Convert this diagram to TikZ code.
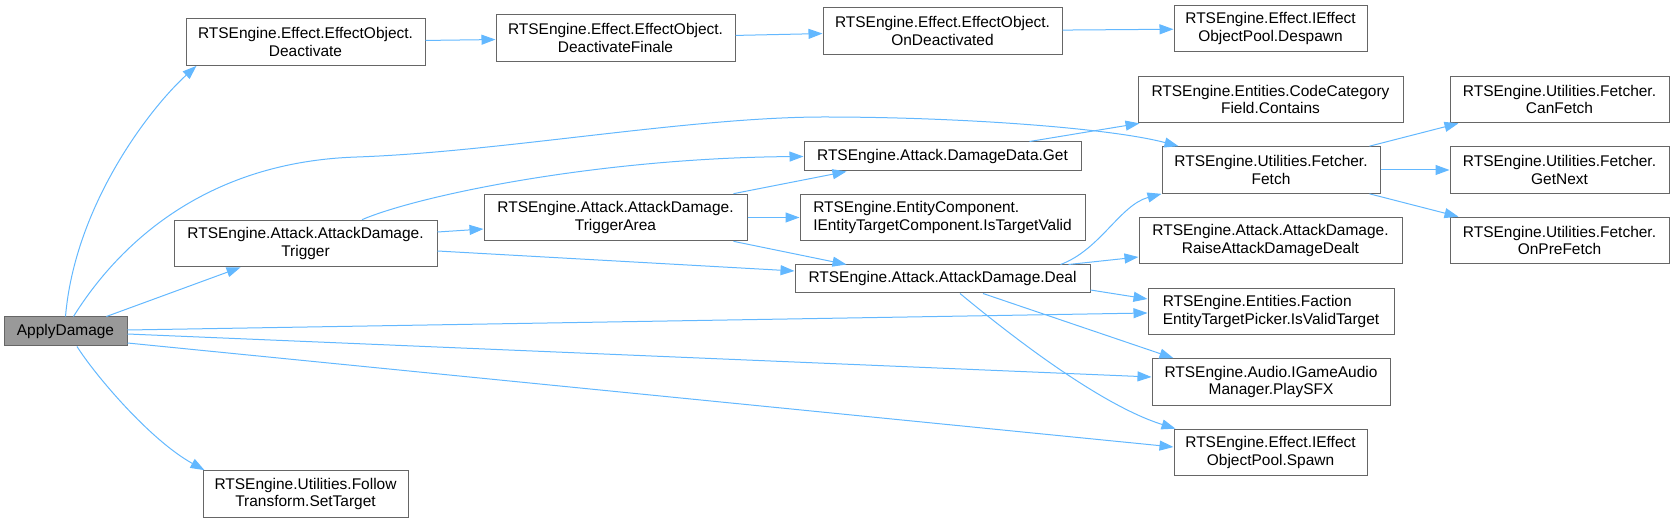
\documentclass[tikz,border=0pt]{standalone}
\usepackage{fontspec}
\setmainfont{Liberation Sans}
\usetikzlibrary{arrows.meta,calc}
\tikzset{every picture/.style={line width=0.75pt}}
\definecolor{callblue}{HTML}{63B8FF}
\definecolor{boxgray}{HTML}{666666}
\definecolor{rootfill}{HTML}{999999}
\tikzset{
  box/.style={draw=boxgray, fill=white, inner sep=1.5pt, align=center, minimum height=35pt, font=\fontsize{11.6pt}{13pt}\selectfont},
  rootbox/.style={box, fill=rootfill, minimum height=21.75pt},
  callline/.style={draw=callblue, -{Triangle[length=10.5pt,width=7.5pt]}}
}
\begin{document}
\begin{tikzpicture}[x=0.75pt,y=0.75pt,yscale=-1,xscale=1]
\useasboundingbox (0,0) rectangle (1674,523);

% Text Node
\node [rootbox, minimum width=92.25pt] (adm) at (65.5,331.5) {ApplyDamage};
% Text Node
\node [box, minimum width=179.25pt] (deact) at (305.5,42) {RTSEngine.Effect.EffectObject.\\Deactivate};
% Text Node
\node [box, minimum width=179.25pt] (dfin) at (615.5,38) {RTSEngine.Effect.EffectObject.\\DeactivateFinale};
% Text Node
\node [box, minimum width=179.25pt] (ondeact) at (942.5,31) {RTSEngine.Effect.EffectObject.\\OnDeactivated};
% Text Node
\node [box, minimum width=144.75pt] (despawn) at (1270.5,28.5) {RTSEngine.Effect.IEffect\\ObjectPool.Despawn};
% Text Node
\node [box, minimum width=198.75pt] (contains) at (1270.5,99.5) {RTSEngine.Entities.CodeCategory\\Field.Contains};
% Text Node
\node [box, minimum width=163.5pt] (fetch) at (1271,170) {RTSEngine.Utilities.Fetcher.\\Fetch};
% Text Node
\node [box, minimum width=164.25pt] (canfetch) at (1559.5,99.5) {RTSEngine.Utilities.Fetcher.\\CanFetch};
% Text Node
\node [box, minimum width=164.25pt] (getnext) at (1559.5,170) {RTSEngine.Utilities.Fetcher.\\GetNext};
% Text Node
\node [box, minimum width=164.25pt] (prefetch) at (1559.5,240.5) {RTSEngine.Utilities.Fetcher.\\OnPreFetch};
% Text Node
\node [box, minimum width=197.25pt] (raise) at (1270.5,240.5) {RTSEngine.Attack.AttackDamage.\\RaiseAttackDamageDealt};
% Text Node
\node [box, minimum width=184.5pt, align=left] (validtgt) at (1271,311.5) {RTSEngine.Entities.Faction\\EntityTargetPicker.IsValidTarget};
% Text Node
\node [box, minimum width=178.5pt] (playsfx) at (1271,382) {RTSEngine.Audio.IGameAudio\\Manager.PlaySFX};
% Text Node
\node [box, minimum width=144.75pt] (spawn) at (1270.5,452.5) {RTSEngine.Effect.IEffect\\ObjectPool.Spawn};
% Text Node
\node [box, minimum width=207.75pt, minimum height=21.75pt] (dmgget) at (942.5,156.5) {RTSEngine.Attack.DamageData.Get};
% Text Node
\node [box, minimum width=213.75pt, align=left] (tgtvalid) at (942.5,217.5) {RTSEngine.EntityComponent.\\IEntityTargetComponent.IsTargetValid};
% Text Node
\node [box, minimum width=221.25pt, minimum height=21pt] (deal) at (942.5,279) {RTSEngine.Attack.AttackDamage.Deal};
% Text Node
\node [box, minimum width=197.25pt] (trig) at (305.5,243.5) {RTSEngine.Attack.AttackDamage.\\Trigger};
% Text Node
\node [box, minimum width=197.25pt] (trigarea) at (615.5,217.5) {RTSEngine.Attack.AttackDamage.\\TriggerArea};
% Text Node
\node [box, minimum width=153.75pt] (settarget) at (305.5,494) {RTSEngine.Utilities.Follow\\Transform.SetTarget};

%Curve Lines
\draw [callline] (adm.north) .. controls (75,205) and (150,108) .. ($(deact.south west)+(11,0)$);
%Curve Lines
\draw [callline] ($(adm.north)+(8,0)$) .. controls (115,250) and (200,162) .. (357,157) .. controls (500,152) and (690,117) .. (824,117) .. controls (960,117) and (1110,128) .. ($(fetch.north west)+(17,0)$);
%Straight Lines
\draw [callline] (adm) -- (trig);
%Straight Lines
\draw [callline] ($(adm.east)+(0,-1.5)$) -- ($(validtgt.west)+(0,1.5)$);
%Straight Lines
\draw [callline] ($(adm.east)+(0,2.5)$) -- ($(playsfx.west)+(0,-5)$);
%Straight Lines
\draw [callline] ($(adm.east)+(0,11.5)$) -- ($(spawn.west)+(0,-5.5)$);
%Curve Lines
\draw [callline] ($(adm.south)+(11.5,0)$) .. controls (95,375) and (150,440) .. ($(settarget.north west)+(2,0)$);

%Curve Lines
\draw [callline] ($(trig.north)+(56.5,0)$) .. controls (420,195) and (600,158) .. (dmgget.west);
%Straight Lines
\draw [callline] ($(trig.east)+(0,-11.5)$) -- ($(trigarea.west)+(0,11.5)$);
%Straight Lines
\draw [callline] ($(trig.east)+(0,7.5)$) -- ($(deal.west)+(0,-8)$);

%Straight Lines
\draw [callline] ($(trigarea.north east)+(-14,0)$) -- ($(dmgget.south west)+(43,0)$);
%Straight Lines
\draw [callline] (trigarea) -- (tgtvalid);
%Straight Lines
\draw [callline] ($(trigarea.south east)+(-14,0)$) -- ($(deal.north west)+(52,0)$);
%Straight Lines
\draw [callline] ($(dmgget.north east)+(-52,0)$) -- ($(contains.south west)+(2,0)$);

%Curve Lines
\draw [callline] ($(deal.north east)+(-30,0)$) .. controls (1100,250) and (1120,205) .. (fetch.south west);
%Straight Lines
\draw [callline] ($(deal.north east)+(-22,0)$) -- ($(raise.west)+(0,16.5)$);
%Straight Lines
\draw [callline] ($(deal.east)+(0,11)$) -- ($(validtgt.west)+(0,-12.5)$);
%Straight Lines
\draw [callline] ($(deal.south)+(40.5,0)$) -- ($(playsfx.north west)+(22,0)$);
%Curve Lines
\draw [callline] ($(deal.south)+(17.5,0)$) .. controls (1010,335) and (1100,405) .. ($(spawn.north west)+(2,0)$);

%Straight Lines
\draw [callline] ($(fetch.north east)+(-11,0)$) -- ($(canfetch.south west)+(9,0)$);
%Straight Lines
\draw [callline] (fetch) -- (getnext);
%Straight Lines
\draw [callline] ($(fetch.south east)+(-11,0)$) -- ($(prefetch.north west)+(9,0)$);

%Straight Lines
\draw [callline] (deact) -- (dfin);
%Straight Lines
\draw [callline] (dfin) -- (ondeact);
%Straight Lines
\draw [callline] (ondeact) -- (despawn);
\end{tikzpicture}
\end{document}
